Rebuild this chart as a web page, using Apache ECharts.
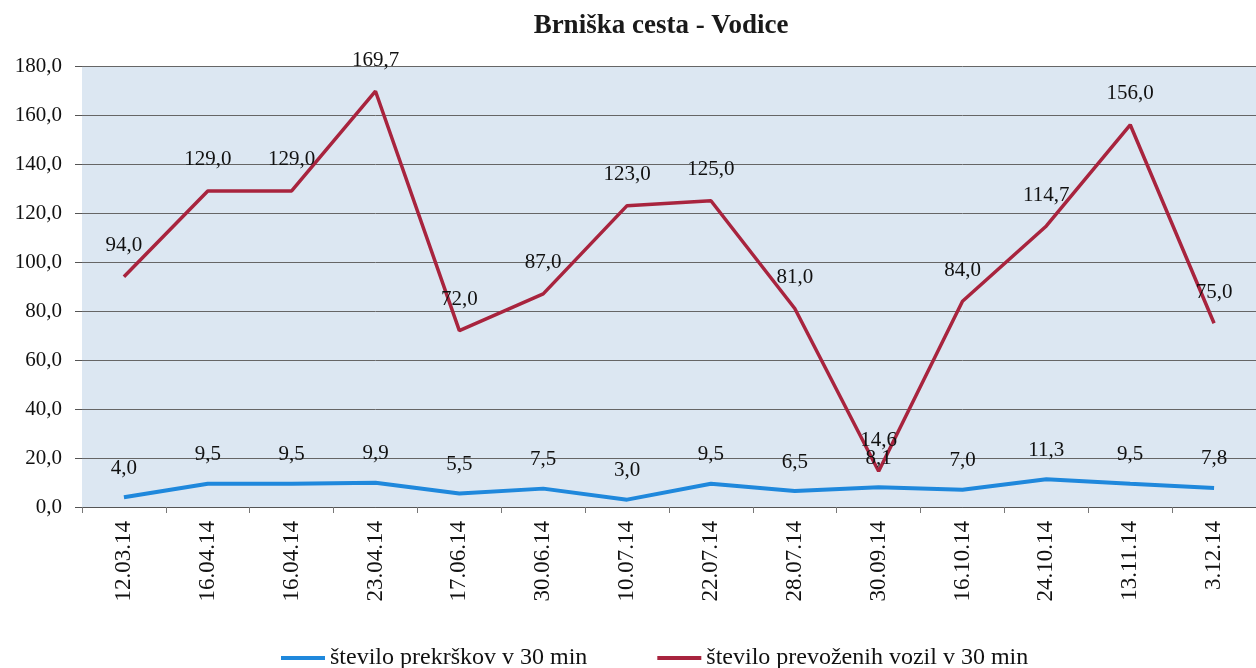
<!DOCTYPE html>
<html>
<head>
<meta charset="utf-8">
<script src="https://cdn.jsdelivr.net/npm/echarts@6/dist/echarts.min.js"></script>
<style>html,body{margin:0;padding:0;background:#fff}#c{width:1256px;height:668px}</style>
</head>
<body>
<div id="c"></div>
<script>
const title = 'Brniška cesta - Vodice';
const categories = ['12.03.14','16.04.14','16.04.14','23.04.14','17.06.14','30.06.14','10.07.14','22.07.14','28.07.14','30.09.14','16.10.14','24.10.14','13.11.14','3.12.14'];
const seriesNames = ['število prekrškov v 30 min', 'število prevoženih vozil v 30 min'];
const prekrski = [4.0, 9.5, 9.5, 9.9, 5.5, 7.5, 3.0, 9.5, 6.5, 8.1, 7.0, 11.3, 9.5, 7.8];
const vozila = [94.0, 129.0, 129.0, 169.7, 72.0, 87.0, 123.0, 125.0, 81.0, 14.6, 84.0, 114.7, 156.0, 75.0];
const yMin = 0, yMax = 180, yStep = 20;

const fmt = v => Number(v).toFixed(1).replace('.', ',');
const serif = '"Liberation Serif", "DejaVu Serif", serif';
const blue = '#1f88dc', red = '#a8243e';

const chart = echarts.init(document.getElementById('c'));
chart.setOption({
  animation: false,
  backgroundColor: '#ffffff',
  title: {
    text: title, left: 656, top: 8, textAlign: 'center',
    textStyle: { fontFamily: serif, fontSize: 27, fontWeight: 'bold', color: '#1a1a1a' }
  },
  grid: {
    left: 82, top: 66, width: 1183, height: 441,
    show: true, backgroundColor: '#dce7f2', borderWidth: 0
  },
  legend: {
    left: 276, top: 641, itemWidth: 44, itemHeight: 4, itemGap: 70,
    textStyle: { fontFamily: serif, fontSize: 24, color: '#111' },
    data: [
      { name: seriesNames[0], icon: 'rect', itemStyle: { color: blue, opacity: 1 } },
      { name: seriesNames[1], icon: 'rect', itemStyle: { color: red, opacity: 1 } }
    ]
  },
  xAxis: {
    type: 'category', data: categories, boundaryGap: true,
    axisLine: { lineStyle: { color: '#555', width: 1 } },
    axisTick: { show: true, length: 6, lineStyle: { color: '#777' } },
    axisLabel: { rotate: 90, margin: 14, fontFamily: serif, fontSize: 23, color: '#111' }
  },
  yAxis: {
    type: 'value', min: yMin, max: yMax, interval: yStep,
    axisLine: { show: false },
    axisTick: { show: true, length: 7, lineStyle: { color: '#555' } },
    splitLine: { lineStyle: { color: '#666', width: 1 } },
    axisLabel: { formatter: fmt, margin: 20, fontFamily: serif, fontSize: 21, color: '#111' }
  },
  series: [
    {
      name: seriesNames[0], type: 'line', data: prekrski,
      symbol: 'circle', symbolSize: 1, showSymbol: true,
      lineStyle: { color: blue, width: 4 }, itemStyle: { color: blue, opacity: 0 },
      label: { show: true, position: 'top', distance: 18, formatter: p => fmt(p.value),
        fontFamily: serif, fontSize: 21, color: '#111', opacity: 1 }
    },
    {
      name: seriesNames[1], type: 'line', data: vozila,
      symbol: 'circle', symbolSize: 1, showSymbol: true,
      lineStyle: { color: red, width: 3.5 }, itemStyle: { color: red, opacity: 0 },
      label: { show: true, position: 'top', distance: 20, formatter: p => fmt(p.value),
        fontFamily: serif, fontSize: 21, color: '#111', opacity: 1 }
    }
  ]
});
</script>
</body>
</html>
